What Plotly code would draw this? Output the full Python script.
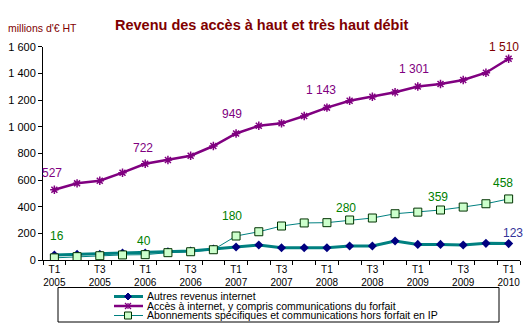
import plotly.graph_objects as go

# Quarterly revenue, millions of euros excl. tax
quarters = [
    "T1 2005", "T2 2005", "T3 2005", "T4 2005",
    "T1 2006", "T2 2006", "T3 2006", "T4 2006",
    "T1 2007", "T2 2007", "T3 2007", "T4 2007",
    "T1 2008", "T2 2008", "T3 2008", "T4 2008",
    "T1 2009", "T2 2009", "T3 2009", "T4 2009",
    "T1 2010",
]
autres = [37, 42, 42, 52, 52, 62, 67, 82, 97, 112, 92, 92, 92, 105, 105, 142,
          117, 117, 112, 125, 123]
acces = [527, 575, 595, 655, 722, 750, 782, 855, 949, 1007, 1025, 1080, 1143,
         1195, 1225, 1258, 1301, 1320, 1350, 1405, 1510]
abonnements = [16, 25, 32, 38, 40, 55, 62, 77, 180, 212, 255, 278, 280, 300,
               315, 347, 359, 375, 397, 422, 458]

names = [
    "Autres revenus internet",
    "Accès à internet, y compris communications du forfait",
    "Abonnements spécifiques et communications hors forfait en IP",
]

W, H = 532, 328
FONT = "Liberation Sans, Arial, sans-serif"
idx = list(range(len(quarters)))


def px(x):
    return x / W


def py(y):
    return 1 - y / H


def fmt(v):
    return f"{v:,}".replace(",", " ")


fig = go.Figure()

fig.add_trace(go.Scatter(
    x=idx, y=autres, mode="lines+markers", name=names[0],
    line=dict(color="#008080", width=3),
    marker=dict(symbol="diamond", size=7, color="#000080"),
))
fig.add_trace(go.Scatter(
    x=idx, y=abonnements, mode="lines+markers", name=names[2],
    line=dict(color="#008080", width=1),
    marker=dict(symbol="square", size=8, color="#CCFFCC",
                line=dict(color="#003300", width=1)),
))
fig.add_trace(go.Scatter(
    x=idx, y=acces, mode="lines+markers", name=names[1],
    line=dict(color="#800080", width=2.5),
    marker=dict(symbol="asterisk-open", size=7,
                line=dict(color="#800080", width=1.5)),
))

annotations = []

# Value labels every fourth quarter
for i, dx, dy in [(0, -2, 17), (4, -2, 16), (8, -4, 19), (12, -6, 18),
                  (16, -4, 18), (20, -5, 12)]:
    annotations.append(dict(
        x=i, y=acces[i], text=fmt(acces[i]), showarrow=False,
        xshift=dx, yshift=dy,
        font=dict(family=FONT, size=12,
                  color="#800000" if i == 20 else "#800080"),
    ))
for i, dx, dy in [(0, 3, 22), (4, -1, 14), (8, -4, 20), (12, 19, 15),
                  (16, 20, 15), (20, -6, 16)]:
    annotations.append(dict(
        x=i, y=abonnements[i], text=fmt(abonnements[i]), showarrow=False,
        xshift=dx, yshift=dy,
        font=dict(family=FONT, size=12, color="#008000"),
    ))
annotations.append(dict(
    x=20, y=autres[20], text=fmt(autres[20]), showarrow=False,
    xshift=4, yshift=11,
    font=dict(family=FONT, size=12, color="#333399"),
))

# Title and unit
annotations.append(dict(
    x=px(261), y=py(25), xref="paper", yref="paper", showarrow=False,
    xanchor="center", yanchor="middle",
    text="<b>Revenu des accès à haut et très haut débit</b>",
    font=dict(family=FONT, size=14.5, color="#800000"),
))
annotations.append(dict(
    x=px(6), y=py(28), xref="paper", yref="paper", showarrow=False,
    xanchor="left", yanchor="middle", text="millions d'€ HT",
    font=dict(family=FONT, size=10.5, color="#800000"),
))

# Legend box drawn by hand
shapes = [dict(type="rect", xref="paper", yref="paper",
               x0=px(58), x1=px(499), y0=py(322), y1=py(287.5),
               line=dict(color="black", width=1), fillcolor="white",
               layer="above")]
rows = [296.5, 306, 315.5]
lx0, lx1, mx = 114, 143, 128
legend_styles = [("#008080", 3), ("#800080", 2.5), ("#008080", 1)]
for (col, w), yy, name in zip(legend_styles, rows, names):
    shapes.append(dict(type="line", xref="paper", yref="paper",
                       x0=px(lx0), x1=px(lx1), y0=py(yy), y1=py(yy),
                       line=dict(color=col, width=w), layer="above"))
    annotations.append(dict(
        x=px(145), y=py(yy - 0.5), xref="paper", yref="paper",
        showarrow=False, xanchor="left", yanchor="middle", text=name,
        font=dict(family=FONT, size=10.5, color="black"),
    ))
# diamond marker
d = 3.5
shapes.append(dict(
    type="path", xref="paper", yref="paper", layer="above",
    path=(f"M {px(mx)} {py(rows[0]-d)} L {px(mx+d)} {py(rows[0])} "
          f"L {px(mx)} {py(rows[0]+d)} L {px(mx-d)} {py(rows[0])} Z"),
    fillcolor="#000080", line=dict(color="#000080", width=1)))
# asterisk marker
a = 3
for (x0, y0, x1, y1) in [(-a, -a, a, a), (-a, a, a, -a), (0, -a, 0, a)]:
    shapes.append(dict(type="line", xref="paper", yref="paper", layer="above",
                       x0=px(mx + x0), y0=py(rows[1] + y0),
                       x1=px(mx + x1), y1=py(rows[1] + y1),
                       line=dict(color="#800080", width=1.2)))
# square marker
s = 3.5
shapes.append(dict(type="rect", xref="paper", yref="paper", layer="above",
                   x0=px(mx - s), x1=px(mx + s),
                   y0=py(rows[2] + s), y1=py(rows[2] - s),
                   fillcolor="#CCFFCC", line=dict(color="#003300", width=1)))

tickvals = idx[::2]
ticktext = [quarters[i].replace(" ", "<br>") for i in tickvals]

fig.update_layout(
    width=W, height=H,
    margin=dict(l=0, r=0, t=0, b=0, pad=0, autoexpand=False),
    paper_bgcolor="white", plot_bgcolor="white",
    showlegend=False,
    separators=", ",
    font=dict(family=FONT, color="black"),
    annotations=annotations,
    shapes=shapes,
    xaxis=dict(
        domain=[px(43), px(520)], range=[-0.5, len(quarters) - 0.5],
        automargin=False,
        tickmode="array", tickvals=tickvals, ticktext=ticktext,
        ticks="", showline=True, linecolor="black", linewidth=1,
        showgrid=False, zeroline=False,
        tickfont=dict(family=FONT, size=10, color="black"),
        minor=dict(tick0=-0.5, dtick=1, ticks="outside", ticklen=4,
                   tickcolor="black", showgrid=False),
    ),
    yaxis=dict(
        domain=[py(260), py(46.7)], range=[0, 1600],
        automargin=False,
        tickmode="linear", tick0=0, dtick=200, separatethousands=True,
        ticks="outside", ticklen=4, tickcolor="black",
        showline=True, linecolor="black", linewidth=1,
        showgrid=False, zeroline=False,
        tickfont=dict(family=FONT, size=11, color="black"),
    ),
)

fig.write_html("out.html")
